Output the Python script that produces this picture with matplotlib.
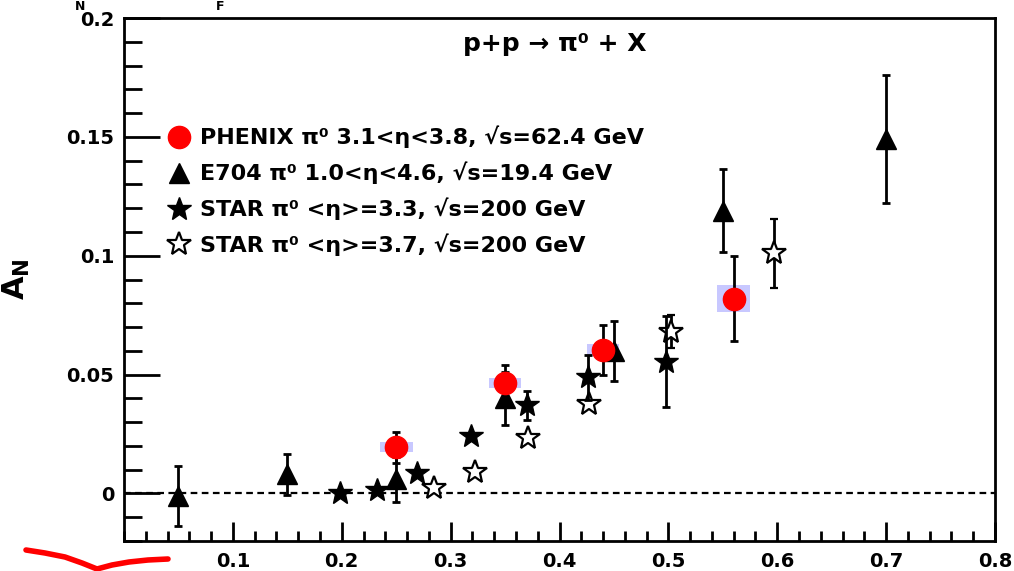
import numpy as np
import matplotlib
matplotlib.use("Agg")
import matplotlib.pyplot as plt
from matplotlib.lines import Line2D

plt.rcParams['font.family'] = ['DejaVu Sans']
plt.rcParams['font.weight'] = 'bold'
plt.rcParams['mathtext.fontset'] = 'dejavusans'

# PHENIX pi0 3.1<eta<3.8, sqrt(s)=62.4 GeV
phenix_x = [0.25, 0.35, 0.44, 0.56]
phenix_y = [0.0195, 0.0465, 0.0605, 0.082]
phenix_err = [0.0065, 0.0075, 0.0105, 0.018]
phenix_sys = [0.002, 0.002, 0.0025, 0.0055]

# E704 pi0 1.0<eta<4.6, sqrt(s)=19.4 GeV
e704_x = [0.05, 0.15, 0.25, 0.35, 0.45, 0.55, 0.70]
e704_y = [-0.001, 0.008, 0.006, 0.040, 0.060, 0.119, 0.149]
e704_err = [0.0125, 0.0085, 0.0095, 0.011, 0.0125, 0.0175, 0.027]

# STAR pi0 <eta>=3.3, sqrt(s)=200 GeV
star33_x = [0.198, 0.232, 0.269, 0.319, 0.370, 0.426, 0.498]
star33_y = [0.0004, 0.0013, 0.0088, 0.024, 0.037, 0.0488, 0.0555]
star33_err = [0.0, 0.0, 0.0, 0.0, 0.006, 0.0095, 0.019]

# STAR pi0 <eta>=3.7, sqrt(s)=200 GeV
star37_x = [0.285, 0.322, 0.371, 0.4275, 0.502, 0.597]
star37_y = [0.0025, 0.0092, 0.0235, 0.0377, 0.068, 0.101]
star37_err = [0.0, 0.0, 0.0, 0.0, 0.007, 0.0145]

labels = ['PHENIX π⁰ 3.1<η<3.8, √s=62.4 GeV',
          'E704 π⁰ 1.0<η<4.6, √s=19.4 GeV',
          'STAR π⁰ <η>=3.3, √s=200 GeV',
          'STAR π⁰ <η>=3.7, √s=200 GeV']

fig = plt.figure(figsize=(10.14, 5.71), dpi=100)
ax = fig.add_axes([124/1014, 30/571, 871/1014, 523/571])

ax.axhline(0, color='black', ls=(0, (3, 2)), lw=1.6, zorder=1)

# systematic boxes for PHENIX
ax.bar(phenix_x, [2*s for s in phenix_sys],
       bottom=[y - s for y, s in zip(phenix_y, phenix_sys)],
       width=0.03, color='#c8c8ff', zorder=2)

ekw = dict(ls='none', ecolor='black', elinewidth=2, capsize=3, capthick=2)
ax.errorbar(star37_x, star37_y, yerr=star37_err, marker='*', ms=18,
            mfc='white', mec='black', mew=1.6, zorder=4, **ekw)
ax.errorbar(star33_x, star33_y, yerr=star33_err, marker='*', ms=18,
            color='black', zorder=5, **ekw)
ax.errorbar(e704_x, e704_y, yerr=e704_err, marker='^', ms=14,
            color='black', zorder=5, **ekw)
ax.errorbar(phenix_x, phenix_y, yerr=phenix_err, marker='o', ms=16,
            mfc='red', mec='red', zorder=6, **ekw)

ax.set_xlim(0, 0.8)
ax.set_ylim(-0.02, 0.2)

ax.set_xticks(np.arange(0.1, 0.81, 0.1))
ax.set_xticklabels(['0.1', '0.2', '0.3', '0.4', '0.5', '0.6', '0.7', '0.8'])
ax.set_xticks(np.arange(0.0, 0.801, 0.02), minor=True)
ax.set_yticks([0, 0.05, 0.1, 0.15, 0.2])
ax.set_yticklabels(['0', '0.05', '0.1', '0.15', '0.2'])
ax.set_yticks(np.arange(-0.02, 0.2001, 0.01), minor=True)

ax.tick_params(axis='both', which='both', direction='in', width=2,
               labelsize=14, top=False, right=False)
ax.tick_params(axis='y', which='major', length=26, pad=7)
ax.tick_params(axis='y', which='minor', length=13)
ax.tick_params(axis='x', which='major', length=14, pad=8)
ax.tick_params(axis='x', which='minor', length=7)
for lab in ax.get_xticklabels() + ax.get_yticklabels():
    lab.set_fontweight('bold')
for sp in ax.spines.values():
    sp.set_linewidth(2)

ax.set_ylabel(r'$\mathbf{A_N}$', fontsize=22)
ax.yaxis.set_label_coords(-0.106, 0.5)

ax.text(0.495, 0.95, 'p+p → π⁰ + X', transform=ax.transAxes,
        ha='center', va='center', fontsize=18, fontweight='bold')

handles = [
    Line2D([], [], ls='none', marker='o', ms=16, mfc='red', mec='red'),
    Line2D([], [], ls='none', marker='^', ms=14, color='black'),
    Line2D([], [], ls='none', marker='*', ms=18, color='black'),
    Line2D([], [], ls='none', marker='*', ms=18, mfc='white', mec='black', mew=1.6),
]
leg = ax.legend(handles, labels, loc='upper left', bbox_to_anchor=(0.038, 0.815),
                frameon=False, fontsize=16, handlelength=1.0, handletextpad=0.45,
                labelspacing=0.6, borderpad=0)
for t in leg.get_texts():
    t.set_fontweight('bold')

# text remnants at top of image
fig.text(80/1014, 1.0, 'N', ha='center', va='top', fontsize=9, fontweight='bold')
fig.text(220/1014, 1.0, 'F', ha='center', va='top', fontsize=9, fontweight='bold')

# red hand-drawn mark at bottom left
px = np.array([26, 45, 65, 82, 97, 112, 129, 148, 168])
py = np.array([550, 553, 557, 563, 569, 565, 562, 560, 559])
fig.add_artist(Line2D(px/1014, 1 - py/571, transform=fig.transFigure,
                      color='red', lw=4, solid_capstyle='round'))

fig.savefig('out.png', dpi=100)
